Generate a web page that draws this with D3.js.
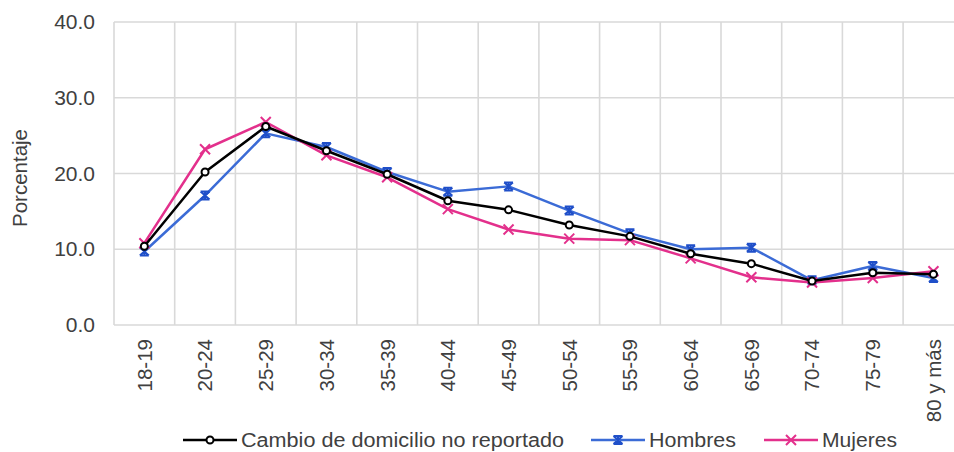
<!DOCTYPE html>
<html>
<head>
<meta charset="utf-8">
<script src="https://cdn.jsdelivr.net/npm/d3@7"></script>
<style>
  body { margin: 0; background: #fff; }
  text { font-family: 'Liberation Sans', Arial, sans-serif; fill: #404040; }
</style>
</head>
<body>
<div id="chart"></div>
<script>
// data
var ageGroups = ['18-19', '20-24', '25-29', '30-34', '35-39', '40-44', '45-49',
                 '50-54', '55-59', '60-64', '65-69', '70-74', '75-79', '80 y más'];
var cambio  = [10.4, 20.2, 26.2, 23.0, 19.9, 16.4, 15.2, 13.2, 11.7, 9.4, 8.1, 5.8, 6.9, 6.7];
var hombres = [9.7, 17.1, 25.3, 23.5, 20.2, 17.6, 18.3, 15.1, 12.1, 10.0, 10.2, 5.9, 7.8, 6.2];
var mujeres = [10.8, 23.2, 26.8, 22.4, 19.5, 15.3, 12.6, 11.4, 11.2, 8.8, 6.3, 5.6, 6.2, 7.1];
var yTicks = [0, 10, 20, 30, 40];
var seriesNames = ['Cambio de domicilio no reportado', 'Hombres', 'Mujeres'];

// setup canvas parameter
var width = 954, height = 452;
var plotLeft = 114, plotTop = 22, plotBottom = 325, step = 60.7;

var series = [
    { name: seriesNames[0], values: cambio,  color: '#000000', marker: 'circle' },
    { name: seriesNames[1], values: hombres, color: '#3b6bd6', mcolor: '#1f4fc9', marker: 'star' },
    { name: seriesNames[2], values: mujeres, color: '#e3308c', marker: 'x' }
];

var svg = d3.select('#chart')
    .append('svg')
    .attr('width', width)
    .attr('height', height);

// 1. scales
var xScale = d3.scaleBand()
    .domain(ageGroups)
    .range([plotLeft, plotLeft + step * ageGroups.length]);

var yScale = d3.scaleLinear()
    .domain([0, 40])
    .range([plotBottom, plotTop]);

var cx = function(d) { return xScale(d) + xScale.bandwidth() / 2; };

// 2. grid
var grid = svg.append('g').attr('class', 'grid');
grid.selectAll('.hgrid')
    .data(yTicks)
    .enter()
    .append('line')
    .attr('x1', plotLeft).attr('x2', xScale.range()[1])
    .attr('y1', function(d){ return yScale(d); })
    .attr('y2', function(d){ return yScale(d); })
    .attr('stroke', '#d9d9d9')
    .attr('stroke-width', 1.6);

grid.selectAll('.vgrid')
    .data(ageGroups.concat(['end']))
    .enter()
    .append('line')
    .attr('x1', function(d, i){ return plotLeft + i * xScale.step(); })
    .attr('x2', function(d, i){ return plotLeft + i * xScale.step(); })
    .attr('y1', yScale(40)).attr('y2', yScale(0))
    .attr('stroke', '#d9d9d9')
    .attr('stroke-width', 1.6);

// 3. axes labels
var yAxisG = svg.append('g')
    .attr('transform', 'translate(' + (plotLeft - 19) + ',0)')
    .call(d3.axisLeft(yScale).tickValues(yTicks).tickSize(0).tickFormat(d3.format('.1f')));
yAxisG.select('.domain').remove();
yAxisG.selectAll('text')
    .attr('x', 0)
    .style('font-size', '21px')
    .attr('fill', '#404040');

var xAxisG = svg.append('g')
    .attr('transform', 'translate(0,' + plotBottom + ')')
    .call(d3.axisBottom(xScale).tickSize(0));
xAxisG.select('.domain').remove();
xAxisG.selectAll('text')
    .attr('transform', 'rotate(-90)')
    .attr('x', -14)
    .attr('y', 0)
    .attr('dy', '0.36em')
    .attr('text-anchor', 'end')
    .style('font-size', '20.5px')
    .attr('fill', '#404040');

svg.append('text')
    .attr('transform', 'translate(27,178) rotate(-90)')
    .attr('text-anchor', 'middle')
    .style('font-size', '20.5px')
    .text('Porcentaje');

// 4. lines + markers
var line = d3.line()
    .x(function(d, i){ return cx(ageGroups[i]); })
    .y(function(d){ return yScale(d); });

function drawMarker(g, type, color, x, y) {
    var s, h;
    if (type === 'circle') {
        g.append('circle')
            .attr('cx', x).attr('cy', y).attr('r', 3.5)
            .attr('fill', '#fff').attr('stroke', color).attr('stroke-width', 2);
    } else if (type === 'x') {
        s = 5;
        g.append('path')
            .attr('d', 'M' + (x - s) + ',' + (y - s) + 'L' + (x + s) + ',' + (y + s) +
                       'M' + (x - s) + ',' + (y + s) + 'L' + (x + s) + ',' + (y - s))
            .attr('stroke', color).attr('stroke-width', 2).attr('fill', 'none');
    } else {
        s = 4.5; h = 4;
        g.append('path')
            .attr('d', 'M' + (x - s) + ',' + (y - h) + 'L' + (x + s) + ',' + (y + h) +
                       'M' + (x - s) + ',' + (y + h) + 'L' + (x + s) + ',' + (y - h) +
                       'M' + x + ',' + (y - h - 1) + 'L' + x + ',' + (y + h + 1) +
                       'M' + (x - s) + ',' + (y - h) + 'L' + (x + s) + ',' + (y - h) +
                       'M' + (x - s) + ',' + (y + h) + 'L' + (x + s) + ',' + (y + h))
            .attr('stroke', color).attr('stroke-width', 2).attr('fill', 'none');
    }
}

var drawOrder = [1, 2, 0];
drawOrder.forEach(function(k){
    var s = series[k];
    var g = svg.append('g');
    g.append('path')
        .attr('d', line(s.values))
        .attr('fill', 'none')
        .attr('stroke', s.color)
        .attr('stroke-width', 2.5)
        .attr('stroke-linejoin', 'round');
    s.values.forEach(function(v, i){
        drawMarker(g, s.marker, s.mcolor || s.color, cx(ageGroups[i]), yScale(v));
    });
});

// 5. legend
var legendX = [183, 591, 764], textW = [323, 87, 75], legendY = 440;
series.forEach(function(s, i){
    var g = svg.append('g');
    g.append('line')
        .attr('x1', legendX[i]).attr('x2', legendX[i] + 54)
        .attr('y1', legendY).attr('y2', legendY)
        .attr('stroke', s.color).attr('stroke-width', 2.5);
    drawMarker(g, s.marker, s.mcolor || s.color, legendX[i] + 27, legendY);
    g.append('text')
        .attr('x', legendX[i] + 58)
        .attr('y', legendY)
        .attr('dy', '0.36em')
        .attr('textLength', textW[i])
        .attr('lengthAdjust', 'spacingAndGlyphs')
        .style('font-size', '20px')
        .text(s.name);
});
</script>
</body>
</html>
